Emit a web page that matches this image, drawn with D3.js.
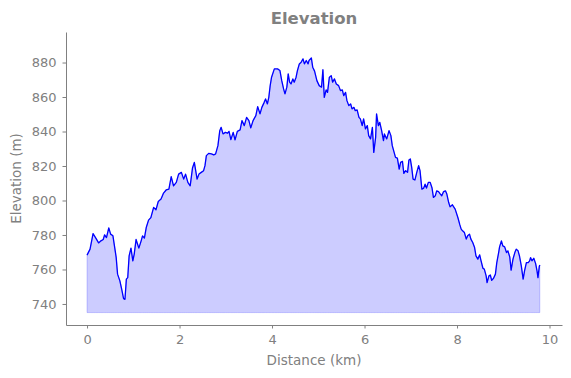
<!DOCTYPE html>
<html>
<head>
<meta charset="utf-8">
<script src="https://cdn.jsdelivr.net/npm/d3@7"></script>
<style>
  body { margin: 0; background: #fff; }
  text { font-family: "DejaVu Sans", sans-serif; }
</style>
</head>
<body>
<div id="container"></div>
<script>
// distance along the track (km)
const distKm = [0.00, 0.065, 0.13, 0.19, 0.25, 0.30, 0.35, 0.38, 0.42, 0.47, 0.51, 0.56, 0.60, 0.63, 0.66, 0.71, 0.75, 0.79, 0.82, 0.85,
  0.88, 0.91, 0.95, 0.99, 1.02, 1.06, 1.12, 1.17, 1.20, 1.24, 1.28, 1.33, 1.38, 1.44, 1.49, 1.54, 1.60, 1.65, 1.71, 1.77,
  1.82, 1.87, 1.93, 1.98, 2.04, 2.09, 2.13, 2.18, 2.23, 2.28, 2.32, 2.38, 2.42, 2.47, 2.52, 2.55, 2.58, 2.63, 2.69, 2.74,
  2.78, 2.83, 2.87, 2.90, 2.94, 2.99, 3.04, 3.07, 3.11, 3.16, 3.20, 3.25, 3.31, 3.35, 3.40, 3.45, 3.50, 3.54, 3.59, 3.65,
  3.69, 3.74, 3.78, 3.83, 3.86, 3.90, 3.93, 3.96, 3.99, 4.05, 4.12, 4.17, 4.21, 4.25, 4.28, 4.32, 4.35, 4.38, 4.41, 4.45,
  4.48, 4.52, 4.55, 4.59, 4.63, 4.67, 4.70, 4.74, 4.78, 4.80, 4.85, 4.88, 4.92, 4.97, 5.02, 5.07, 5.10, 5.13, 5.17, 5.20,
  5.24, 5.28, 5.31, 5.35, 5.39, 5.44, 5.48, 5.52, 5.55, 5.59, 5.62, 5.66, 5.70, 5.73, 5.77, 5.80, 5.84, 5.88, 5.91, 5.95,
  5.98, 6.02, 6.06, 6.09, 6.13, 6.17, 6.20, 6.24, 6.26, 6.30, 6.33, 6.37, 6.41, 6.43, 6.48, 6.53, 6.57, 6.60, 6.64, 6.67,
  6.71, 6.75, 6.78, 6.82, 6.85, 6.89, 6.93, 6.96, 6.99, 7.02, 7.05, 7.09, 7.13, 7.17, 7.20, 7.24, 7.28, 7.31, 7.34, 7.38,
  7.42, 7.46, 7.49, 7.53, 7.56, 7.60, 7.64, 7.67, 7.71, 7.75, 7.78, 7.82, 7.85, 7.90, 7.96, 8.02, 8.06, 8.09, 8.12, 8.16,
  8.20, 8.23, 8.27, 8.30, 8.34, 8.38, 8.41, 8.45, 8.49, 8.52, 8.56, 8.59, 8.63, 8.65, 8.69, 8.72, 8.75, 8.79, 8.83, 8.86,
  8.90, 8.92, 8.96, 8.99, 9.03, 9.07, 9.10, 9.14, 9.17, 9.21, 9.25, 9.28, 9.32, 9.35, 9.39, 9.43, 9.46, 9.50, 9.54, 9.57,
  9.59, 9.62, 9.66, 9.70, 9.73, 9.75, 9.78, 9.79];

// elevation at each point (m)
const elevM = [768.3, 771.8, 780.8, 778.2, 775.4, 776.6, 777.4, 780.1, 778.5, 784.1, 780.5, 779.5, 772.4, 767.0, 757.3, 753.4, 748.5, 743.1, 742.7, 754.4,
  755.3, 767.9, 772.4, 765.0, 768.9, 777.4, 772.4, 776.6, 779.5, 778.2, 784.3, 788.6, 790.1, 796.0, 794.6, 799.4, 800.8, 804.1, 806.1, 806.6,
  813.8, 808.5, 810.5, 815.3, 816.3, 812.4, 815.3, 810.5, 808.5, 818.8, 822.1, 812.4, 815.3, 816.3, 817.3, 820.2, 826.0, 827.3, 827.0, 826.4,
  827.0, 831.8, 840.5, 842.4, 838.6, 839.5, 839.0, 840.1, 835.3, 839.5, 835.1, 840.1, 840.9, 846.3, 843.4, 848.2, 846.3, 842.1, 846.3, 849.2,
  854.4, 850.2, 854.0, 856.9, 858.9, 856.0, 859.8, 866.6, 871.5, 876.3, 876.3, 875.4, 869.5, 864.7, 861.8, 865.7, 873.4, 868.6, 867.6, 870.5,
  868.6, 871.5, 875.4, 879.2, 880.2, 882.1, 879.2, 881.2, 879.2, 881.2, 882.7, 877.3, 875.0, 869.5, 866.6, 865.7, 875.8, 859.8, 864.1, 862.7,
  871.5, 872.4, 868.6, 870.5, 867.6, 866.6, 863.7, 864.1, 860.8, 862.7, 857.9, 855.0, 856.0, 853.1, 854.0, 852.1, 852.5, 848.2, 847.3, 843.4,
  847.3, 841.5, 843.4, 837.6, 835.7, 842.4, 827.9, 836.6, 850.2, 843.4, 845.3, 840.5, 834.7, 838.6, 835.7, 840.5, 837.6, 831.8, 827.9, 825.0,
  824.6, 818.2, 822.1, 822.7, 815.7, 817.3, 816.3, 823.5, 824.1, 819.2, 812.4, 811.9, 816.3, 820.2, 817.3, 806.6, 807.2, 809.5, 807.2, 810.5,
  810.5, 807.2, 801.8, 802.7, 805.6, 805.2, 803.7, 802.7, 805.2, 805.6, 803.7, 798.8, 796.3, 797.5, 795.0, 790.0, 786.0, 783.4, 782.4, 781.4,
  777.6, 779.5, 780.5, 777.6, 775.6, 772.7, 767.9, 766.0, 768.5, 765.0, 760.7, 760.2, 756.3, 752.4, 756.3, 756.8, 753.7, 754.9, 757.3, 764.0,
  769.8, 773.1, 776.6, 773.7, 773.1, 769.8, 770.8, 767.3, 759.6, 766.0, 769.8, 771.8, 770.8, 767.9, 762.1, 754.4, 759.2, 764.0, 764.0, 765.0,
  766.9, 765.0, 766.5, 763.4, 759.2, 755.3, 761.9, 762.6];

const fillBase = 735;
const xTicks = [0, 2, 4, 6, 8, 10];
const yTicks = [740, 760, 780, 800, 820, 840, 860, 880];

const width = 571, height = 378;
const margin = { top: 32, right: 9, bottom: 53, left: 66 };
const grey = "#808080";

const track = distKm.map((d, i) => ({ d: d, e: elevM[i] }));

const svg = d3.select("#container").append("svg")
  .attr("width", width)
  .attr("height", height);

const x = d3.scaleLinear()
  .domain([-0.455, 10.27])
  .range([margin.left, width - margin.right]);

const y = d3.scaleLinear()
  .domain([727.8, 897.7])
  .range([height - margin.bottom, margin.top]);

// shaded area under the profile
const area = d3.area()
  .x(p => x(p.d))
  .y0(y(fillBase))
  .y1(p => y(p.e));

svg.append("path")
  .datum(track)
  .attr("d", area)
  .attr("fill", "blue")
  .attr("fill-opacity", 0.2)
  .attr("stroke", "blue")
  .attr("stroke-opacity", 0.2)
  .attr("stroke-width", 1);

const line = d3.line()
  .x(p => x(p.d))
  .y(p => y(p.e));

svg.append("path")
  .datum(track)
  .attr("d", line)
  .attr("fill", "none")
  .attr("stroke", "blue")
  .attr("stroke-width", 1.3)
  .attr("stroke-linejoin", "round");

// axes
const xAxis = svg.append("g")
  .attr("transform", `translate(0,${height - margin.bottom})`)
  .call(d3.axisBottom(x).tickValues(xTicks).tickSize(3.5).tickPadding(6.5).tickSizeOuter(0));

const yAxis = svg.append("g")
  .attr("transform", `translate(${margin.left},0)`)
  .call(d3.axisLeft(y).tickValues(yTicks).tickSize(3.5).tickPadding(6).tickSizeOuter(0));

[xAxis, yAxis].forEach(g => {
  g.select(".domain").attr("stroke", grey).attr("stroke-width", 1);
  g.selectAll(".tick line").attr("stroke", grey);
  g.selectAll(".tick text")
    .attr("fill", grey)
    .style("font-size", "13px")
    .style("font-family", "DejaVu Sans");
});

// labels
svg.append("text")
  .text("Elevation")
  .attr("x", (margin.left + width - margin.right) / 2)
  .attr("y", 24)
  .attr("text-anchor", "middle")
  .attr("fill", grey)
  .style("font-size", "16.5px")
  .style("font-weight", "bold");

svg.append("text")
  .text("Distance (km)")
  .attr("x", (margin.left + width - margin.right) / 2)
  .attr("y", 365)
  .attr("text-anchor", "middle")
  .attr("fill", grey)
  .style("font-size", "13.5px");

svg.append("text")
  .text("Elevation (m)")
  .attr("transform", `translate(21,${(margin.top + height - margin.bottom) / 2}) rotate(-90)`)
  .attr("text-anchor", "middle")
  .attr("fill", grey)
  .style("font-size", "13.5px");
</script>
</body>
</html>
